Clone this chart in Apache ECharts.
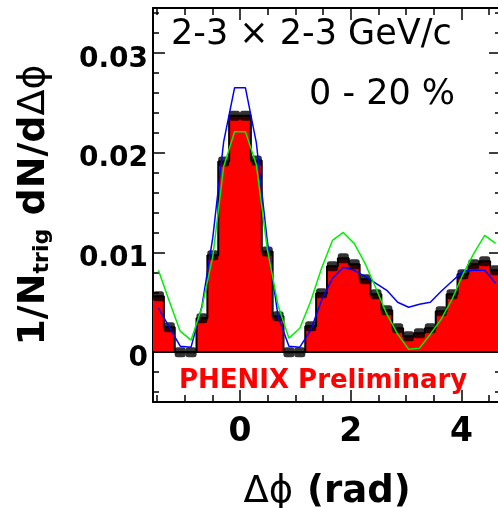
<!DOCTYPE html>
<html><head><meta charset="utf-8">
<script src="https://cdn.jsdelivr.net/npm/echarts@6.0.0/dist/echarts.min.js"></script>
<style>html,body{margin:0;padding:0;background:#fff}#c{width:498px;height:508px}</style>
</head><body><div id="c"></div>
<script>
// ---- data (32 bins over -pi/2 .. 3pi/2) ----
const histValues = [0.0056,0.0025,0.0000,0.0000,0.0034,0.0097,0.0191,0.0237,
                    0.0237,0.0192,0.0101,0.0036,0.0000,0.0000,0.0026,0.0059,
                    0.0086,0.0094,0.0088,0.0073,0.0058,0.0042,0.0024,0.0016,
                    0.0019,0.0024,0.0041,0.0058,0.0078,0.0088,0.0091,0.0082];
const blueValues  = [0.0044,0.0025,0.0006,0.0005,0.0046,0.0115,0.0211,0.0265,
                     0.0265,0.0210,0.0112,0.0036,0.0006,0.0005,0.0022,0.0052,
                     0.0074,0.0085,0.0082,0.0076,0.0069,0.0062,0.0050,0.0045,
                     0.0048,0.0050,0.0061,0.0071,0.0081,0.0082,0.0082,0.0069];
const greenValues = [0.0082,0.0051,0.0021,0.0012,0.0045,0.0096,0.0186,0.0221,
                     0.0221,0.0188,0.0104,0.0047,0.0014,0.0024,0.0051,0.0084,
                     0.0112,0.0120,0.0109,0.0089,0.0064,0.0038,0.0018,0.0003,
                     0.0004,0.0018,0.0033,0.0053,0.0078,0.0099,0.0117,0.0109];
const xMajorTicks = [0, 2, 4];
const xMinorTicks = [-1.5, -1, -0.5, 0.5, 1, 1.5, 2.5, 3, 3.5, 4.5];
const yMajorTicks = [0, 0.01, 0.02, 0.03];
const yMinorTicks = [-0.004,-0.002,0.002,0.004,0.006,0.008,0.012,0.014,0.016,0.018,
                     0.022,0.024,0.026,0.028,0.032,0.034];
const textKinematics = '2-3 \u00d7 2-3 GeV/c';
const textCentrality = '0 - 20 %';
const textPreliminary = 'PHENIX Preliminary';

// ---- binning ----
const xMin = -Math.PI / 2, xMax = 3 * Math.PI / 2;
const nBins = histValues.length;
const binW = (xMax - xMin) / nBins;
const centers = histValues.map((_, i) => xMin + (i + 0.5) * binW);
const stepData = histValues.map((v, i) => [xMin + i * binW, v]);
stepData.push([xMax, histValues[nBins - 1]]);
const pts = arr => arr.map((v, i) => [centers[i], v]);

const FONT = 'DejaVu Sans';
const tickStyle = {color: '#000', width: 1.5};

function xAx(pos, ticks, len, showLine, showLabel, extra) {
  return Object.assign({
    type: 'value', gridIndex: 0, position: pos, min: xMin, max: xMax,
    axisLine: {show: showLine, onZero: false, lineStyle: {color: '#000', width: 2}},
    axisTick: {show: true, inside: true, length: len, customValues: ticks, lineStyle: tickStyle},
    axisLabel: showLabel ? {show: true, customValues: ticks, color: '#000', fontFamily: FONT,
      fontWeight: 'bold', fontSize: 33, margin: 14} : {show: false},
    splitLine: {show: false}, minorTick: {show: false}
  }, extra || {});
}
function yAx(pos, ticks, len, showLine, showLabel, extra) {
  return Object.assign({
    type: 'value', gridIndex: 0, position: pos, min: -0.005, max: 0.0345,
    axisLine: {show: showLine, onZero: false, lineStyle: {color: '#000', width: 2}},
    axisTick: {show: true, inside: true, length: len, customValues: ticks, lineStyle: tickStyle},
    axisLabel: showLabel ? {show: true, customValues: ticks, color: '#000', fontFamily: FONT,
      fontWeight: 'bold', fontSize: 28, margin: 5, verticalAlign: 'top', lineHeight: 13,
      formatter: v => (v === 0 ? '0' : v.toFixed(2))} : {show: false},
    splitLine: {show: false}, minorTick: {show: false}
  }, extra || {});
}

const chart = echarts.init(document.getElementById('c'), null, {renderer: 'canvas'});
chart.setOption({
  animation: false,
  backgroundColor: '#fff',
  grid: {left: 153, right: -3, top: 8, bottom: 106, containLabel: false, outerBoundsMode: 'none'},
  xAxis: [
    xAx('bottom', xMajorTicks, 12, true, true, {
      name: '{r|\u0394\u03d5}{sp| }{b|(rad)}', nameLocation: 'middle', nameGap: 72,
      nameTextStyle: {color: '#000', rich: {
        r: {fontFamily: FONT, fontSize: 37, fontWeight: 'normal', color: '#000'},
        sp: {fontFamily: FONT, fontSize: 37, width: 14},
        b: {fontFamily: FONT, fontSize: 37, fontWeight: 'bold', color: '#000'}}}
    }),
    xAx('bottom', xMinorTicks, 7, false, false),
    xAx('top', xMajorTicks, 12, true, false),
    xAx('top', xMinorTicks, 7, false, false)
  ],
  yAxis: [
    yAx('left', yMajorTicks, 12, true, true, {
      name: '{b|1/N}{s|trig}{b| dN/d}{r|\u0394\u03d5}', nameLocation: 'middle', nameRotate: 90, nameGap: 100,
      nameTextStyle: {color: '#000', rich: {
        b: {fontFamily: FONT, fontSize: 38, fontWeight: 'bold', color: '#000', lineHeight: 38},
        s: {fontFamily: FONT, fontSize: 22, fontWeight: 'bold', color: '#000', lineHeight: 22, verticalAlign: 'bottom'},
        r: {fontFamily: FONT, fontSize: 38, fontWeight: 'normal', color: '#000', lineHeight: 38}}}
    }),
    yAx('left', yMinorTicks, 6, false, false),
    yAx('right', yMajorTicks, 12, true, false),
    yAx('right', yMinorTicks, 6, false, false)
  ],
  series: [
    {
      type: 'line', xAxisIndex: 0, yAxisIndex: 0, step: 'end', data: stepData,
      symbol: 'none', lineStyle: {color: '#000', width: 2},
      areaStyle: {color: '#ff0000', opacity: 1}, z: 2,
      markLine: {silent: true, symbol: 'none', label: {show: false},
        lineStyle: {color: '#000', width: 2, type: 'solid'}, data: [{yAxis: 0}]}
    },
    {
      type: 'scatter', xAxisIndex: 0, yAxisIndex: 0, data: pts(histValues),
      symbol: 'roundRect', symbolSize: [11, 10], itemStyle: {color: '#000'}, z: 3
    },
    {
      type: 'line', xAxisIndex: 0, yAxisIndex: 0, data: pts(blueValues),
      symbol: 'none', lineStyle: {color: '#0000ff', width: 1.5}, z: 4
    },
    {
      type: 'line', xAxisIndex: 0, yAxisIndex: 0, data: pts(greenValues),
      symbol: 'none', lineStyle: {color: '#00f000', width: 1.5}, z: 5
    }
  ],
  graphic: [
    {type: 'text', x: 171, y: 35, z: 100, style: {text: textKinematics, fontFamily: FONT,
      fontSize: 35, fill: '#000', verticalAlign: 'middle'}},
    {type: 'text', x: 309, y: 95, z: 100, style: {text: textCentrality, fontFamily: FONT,
      fontSize: 35, fill: '#000', verticalAlign: 'middle'}},
    {type: 'text', x: 179, y: 381, z: 100, style: {text: textPreliminary, fontFamily: FONT,
      fontWeight: 'bold', fontSize: 26, fill: '#ff0000', verticalAlign: 'middle'}}
  ]
});
</script>
</body></html>
